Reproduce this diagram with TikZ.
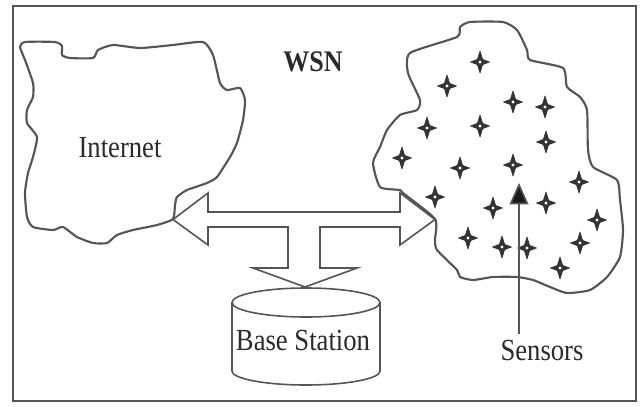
\documentclass[tikz,border=0pt]{standalone}
\usepackage{fontspec}
\setmainfont{Liberation Serif}
\usetikzlibrary{arrows.meta}
\definecolor{ln}{HTML}{555555}
\definecolor{tx}{HTML}{2A2A2A}
\tikzset{
  outline/.style={draw=ln, line width=1.6pt, line join=round},
  shapeline/.style={draw=ln, line width=1.2pt, line join=miter, fill=white},
  lbl/.style={text=tx, inner sep=1pt, font=\fontsize{20}{24}\selectfont},
  sensor/.pic={
    \filldraw[black!80, line width=0.5pt, line join=round] (0,11) -- (2.6,2.6) -- (9.5,0) -- (2.6,-2.6) -- (0,-11) -- (-2.6,-2.6) -- (-9.5,0) -- (-2.6,2.6) -- cycle;
    \fill[white] (0,0) circle (1.7);
  }
}
\begin{document}
\begin{tikzpicture}[x=0.75pt,y=-0.75pt]
\useasboundingbox (0,0) rectangle (641,406);
% frame
\draw[draw=ln, line width=1.5pt] (13,6) rectangle (636,401);
% Internet cloud
\draw[outline] plot[smooth cycle, tension=0.35] coordinates {
 (20,47) (25,42) (55,42) (62,46) (62,55) (70,58) (93,58) (98,50) (113,45)
 (140,48) (173,45) (203,42) (213,55) (220,83) (227,90) (240,88) (245,100)
 (243,120) (237,143) (230,157) (217,177) (207,183) (187,190) (177,197)
 (175,205) (173,219) (157,225) (133,230) (117,235) (107,243) (93,243)
 (77,237) (63,227) (53,230) (33,227) (27,217) (25,193) (28,173) (33,157)
 (37,137) (27,123) (27,110) (33,97) (33,83) (25,60)};
% WSN cloud
\draw[outline] plot[smooth cycle, tension=0.35] coordinates {
 (470,22) (503,22) (517,30) (527,50) (530,60) (563,68) (567,87) (580,97)
 (587,110) (588,150) (593,167) (617,180) (620,200) (623,230) (620,257)
 (607,277) (590,290) (567,293) (550,287) (533,280) (517,277) (493,277)
 (473,280) (460,277) (457,270) (437,250) (435,240) (435,219) (403,193)
 (400,190) (380,187) (373,163) (380,147) (387,130) (400,115) (417,110)
 (420,100) (408,73) (410,53) (457,37) (460,27)};
% sensors
\foreach \p in {(480,62),(447,86),(513,102),(545,107),(427,128),(480,126),
  (546,142),(402,158),(460,168),(513,165),(579,182),(435,197),(493,208),
  (546,203),(597,220),(468,238),(502,247),(527,248),(580,243),(560,268)}
  \pic at \p {sensor};
% T-shaped double arrow
\draw[shapeline] (173,219.5) -- (208,193) -- (208,212) -- (400,212) -- (400,193)
 -- (435,219.5) -- (400,245) -- (400,227) -- (320,227) -- (320,268) -- (357,268)
 -- (305,287) -- (253,268) -- (288,268) -- (288,227) -- (208,227) -- (208,245) -- cycle;
% base station cylinder
\draw[shapeline] (232,302.5) -- (232,371) arc[start angle=180, end angle=360, x radius=74, y radius=-14] -- (380,302.5);
\draw[shapeline] (306,302.5) ellipse[x radius=74, y radius=14.5];
% labels
\node[lbl] (inet) at (120,148) {\scalebox{1}[1.15]{Internet}};
\node[lbl, font=\fontsize{19.5}{23}\selectfont\bfseries] (wsn) at (313,62) {\scalebox{1}[1.15]{WSN}};
\node[lbl] (bs) at (303,340) {\scalebox{1}[1.15]{Base Station}};
\node[lbl] (sens) at (542,350) {\scalebox{1}[1.15]{Sensors}};
\coordinate (stip) at (519,183);
\draw[draw=ln, line width=1.2pt, -{Triangle[length=16pt,width=14pt,fill=black!90]}] (519,334) -- (stip);
\end{tikzpicture}
\end{document}
